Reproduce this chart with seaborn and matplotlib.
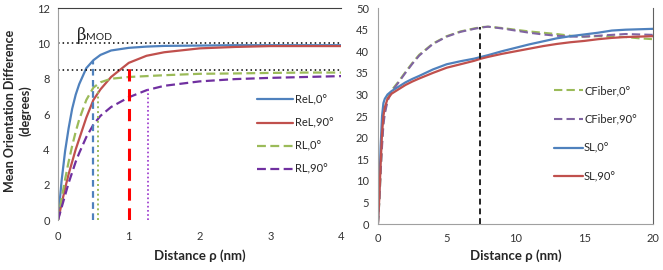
import matplotlib
matplotlib.use("Agg")
import matplotlib.pyplot as plt
import seaborn as sns

# ---------------- left panel data ----------------
rho_left = [0, 0.05, 0.1, 0.15, 0.2, 0.25, 0.3, 0.4, 0.5, 0.6, 0.75, 1.0,
            1.25, 1.5, 2, 2.5, 3, 3.5, 4]
rel_0 = [0, 2.2, 3.9, 5.2, 6.3, 7.1, 7.7, 8.6, 9.05, 9.35, 9.6, 9.75,
         9.82, 9.86, 9.88, 9.9, 9.9, 9.9, 9.9]
rel_90 = [0, 0.9, 1.8, 2.6, 3.3, 4.0, 4.6, 5.8, 6.8, 7.4, 8.1, 8.9,
          9.3, 9.5, 9.72, 9.8, 9.85, 9.85, 9.85]
rl_0 = [0, 1.2, 2.3, 3.3, 4.2, 5.0, 5.7, 6.8, 7.5, 7.8, 8.0, 8.1,
        8.15, 8.2, 8.28, 8.3, 8.33, 8.35, 8.35]
rl_90 = [0, 0.7, 1.4, 2.1, 2.7, 3.3, 3.8, 4.7, 5.4, 5.9, 6.4, 6.95,
         7.35, 7.6, 7.85, 7.98, 8.05, 8.1, 8.15]

beta_levels = [10, 8.5]
mark_x = [0.5, 0.56, 1.0, 1.27]
mark_top = [9.0, 7.6, 8.85, 7.4]

# ---------------- right panel data ----------------
rho_right = [0, 0.1, 0.2, 0.3, 0.4, 0.5, 0.7, 1, 1.5, 2, 2.5, 3, 4, 5, 6, 7,
             7.5, 8, 9, 10, 11, 12, 13, 14, 15, 16, 17, 18, 19, 20]
sl_0 = [0, 8, 18, 25, 28, 29, 30, 30.8, 31.8, 32.8, 33.6, 34.3, 35.8, 37.0,
        37.7, 38.3, 38.7, 39.1, 40.0, 40.8, 41.6, 42.3, 43.0, 43.5, 43.9,
        44.3, 44.8, 45.0, 45.1, 45.2]
sl_90 = [0, 6, 14, 21, 25, 27, 29, 30.2, 31.2, 32.2, 33.0, 33.7, 35.0, 36.2,
         37.0, 37.8, 38.3, 38.7, 39.4, 40.0, 40.6, 41.2, 41.7, 42.1, 42.4,
         42.8, 43.1, 43.3, 43.4, 43.5]
cf_0 = [0, 5, 12, 19, 24, 26, 29, 31, 33, 35.2, 37.3, 39.2, 41.8, 43.5, 44.6,
        45.3, 45.6, 45.7, 45.4, 45.0, 44.6, 44.3, 44.0, 43.6, 43.4, 43.5,
        43.4, 43.3, 43.0, 42.8]
cf_90 = [0, 5, 12, 18, 23, 25.5, 28.5, 30.7, 32.8, 35.0, 37.1, 39.0, 41.7,
         43.4, 44.5, 45.2, 45.5, 45.7, 45.3, 44.8, 44.3, 43.9, 43.6, 43.4,
         43.4, 43.6, 43.8, 44.0, 43.9, 43.8]
peak_x = 7.45
peak_top = 45.7

BLUE, RED, GREEN, PURPLE = "#4F81BD", "#C0504D", "#9BBB59", "#8064A2"

sns.set_style("white")
plt.rcParams["font.family"] = ["Lato", "DejaVu Sans"]
plt.rcParams["axes.linewidth"] = 0.8

fig = plt.figure(figsize=(6.63, 2.70), dpi=100)
ax1 = fig.add_axes([0.0875, 0.185, 0.427, 0.785])
ax2 = fig.add_axes([0.570, 0.170, 0.415, 0.800])

# ---- left ----
sns.lineplot(x=rho_left, y=rel_0, ax=ax1, color=BLUE, lw=1.6, label="ReL,0°")
sns.lineplot(x=rho_left, y=rel_90, ax=ax1, color=RED, lw=1.6, label="ReL,90°")
sns.lineplot(x=rho_left, y=rl_0, ax=ax1, color=GREEN, lw=1.6, ls=(0, (4, 2)), label="RL,0°")
sns.lineplot(x=rho_left, y=rl_90, ax=ax1, color="#7030A0", lw=1.6, ls=(0, (4, 2)), label="RL,90°")

for lv in beta_levels:
    ax1.axhline(lv, color="black", lw=1.1, ls=(0, (1, 2)))
ax1.vlines(mark_x[0], 0, mark_top[0], color=BLUE, lw=1.6, ls=(0, (3, 2)))
ax1.vlines(mark_x[1], 0, mark_top[1], color=GREEN, lw=1.4, ls=(0, (1, 1.5)))
ax1.vlines(mark_x[2], 0, mark_top[2], color="#FF0000", lw=2.2, ls=(0, (4, 2.5)))
ax1.vlines(mark_x[3], 0, mark_top[3], color="#9933CC", lw=1.2, ls=(0, (1, 1.5)))
ax1.text(0.27, 10.2, "β", fontsize=12, color="#222222",
         family=["DejaVu Serif"])
ax1.text(0.40, 10.2, "MOD", fontsize=7.5, color="#222222")

ax1.set_xlim(0, 4)
ax1.set_ylim(0, 12)
ax1.set_xticks([0, 1, 2, 3, 4])
ax1.set_yticks(range(0, 13, 2))
ax1.set_xlabel("Distance ρ (nm)", fontsize=9.5, fontweight="bold", labelpad=5)
ax1.set_ylabel("Mean Orientation Difference\n(degrees)", fontsize=9,
               fontweight="bold", linespacing=1.3)
ax1.yaxis.set_label_coords(-0.092, 0.514)
for s in ["right", "bottom"]:
    ax1.spines[s].set_visible(False)
ax1.spines["left"].set_color("#A0A0A0")
ax1.spines["top"].set_color("#404040")
ax1.tick_params(axis="x", length=3, color="#BBBBBB", labelsize=8,
                labelcolor="#333333", pad=5)
ax1.tick_params(axis="y", length=3, color="#A0A0A0", labelsize=8,
                labelcolor="#333333", pad=3)
ax1.legend(loc="upper left", bbox_to_anchor=(0.685, 0.62), frameon=False,
           fontsize=8, handlelength=3.2, handletextpad=0.15,
           labelspacing=1.1, borderpad=0)

# ---- right ----
sns.lineplot(x=rho_right, y=cf_0, ax=ax2, color=GREEN, lw=1.5, ls=(0, (4, 2)), label="CFiber,0°")
sns.lineplot(x=rho_right, y=cf_90, ax=ax2, color=PURPLE, lw=1.5, ls=(0, (4, 2)), label="CFiber,90°")
sns.lineplot(x=rho_right, y=sl_0, ax=ax2, color=BLUE, lw=1.6, label="SL,0°")
sns.lineplot(x=rho_right, y=sl_90, ax=ax2, color=RED, lw=1.6, label="SL,90°")
ax2.vlines(peak_x, 0, peak_top, color="#222222", lw=1.4, ls=(0, (3, 2)))

ax2.set_xlim(0, 20)
ax2.set_ylim(0, 50)
ax2.set_xticks([0, 5, 10, 15, 20])
ax2.set_yticks(range(0, 51, 5))
ax2.set_xlabel("Distance ρ (nm)", fontsize=9.5, fontweight="bold", labelpad=4)
ax2.spines["top"].set_visible(False)
ax2.spines["left"].set_color("#A0A0A0")
ax2.spines["bottom"].set_color("#A0A0A0")
ax2.spines["right"].set_color("#606060")
ax2.tick_params(axis="both", length=3, color="#A0A0A0", labelsize=8,
                labelcolor="#333333")
ax2.legend(loc="upper left", bbox_to_anchor=(0.62, 0.67), frameon=False,
           fontsize=8, handlelength=2.6, handletextpad=0.1,
           labelspacing=1.6, borderpad=0)

fig.savefig("out.png", dpi=100)
